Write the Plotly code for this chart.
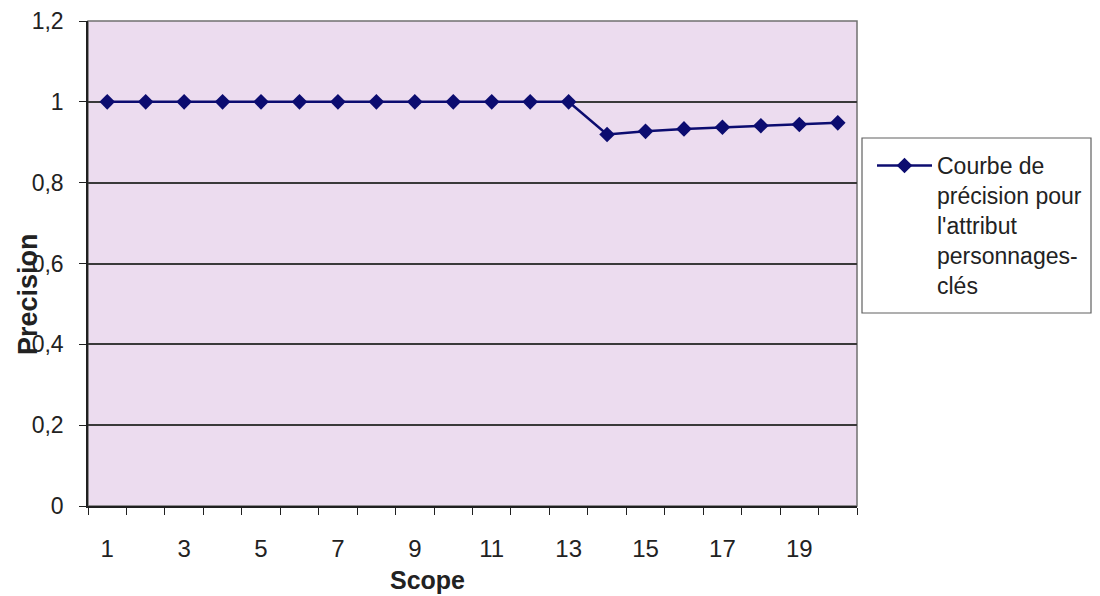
import plotly.graph_objects as go

scope = list(range(1, 21))
precision = [1, 1, 1, 1, 1, 1, 1, 1, 1, 1, 1, 1, 1,
             0.919, 0.927, 0.933, 0.937, 0.941, 0.944, 0.948]
series_name = "Courbe de<br>précision pour<br>l'attribut<br>personnages-<br>clés"
x_tick_vals = [1, 3, 5, 7, 9, 11, 13, 15, 17, 19]
y_tick_vals = [0, 0.2, 0.4, 0.6, 0.8, 1.0, 1.2]

FONT = "Liberation Sans, Arial, sans-serif"
TXT = "#222222"

# page offset: the html body has an 8px margin
PLOT_L, PLOT_R, PLOT_T, PLOT_B = 88, 857, 21, 506
W = PLOT_R - PLOT_L
H = PLOT_B - PLOT_T


def px(x):
    return (x - PLOT_L) / W


def py(y):
    return (PLOT_B - y) / H


fig = go.Figure()
fig.add_trace(go.Scatter(
    x=scope, y=precision, mode="lines+markers", name=series_name,
    line=dict(color="#0c0c70", width=2.5),
    marker=dict(symbol="diamond", size=12, color="#0c0c70"),
    showlegend=True,
))

# legend border box
fig.add_shape(type="rect", xref="paper", yref="paper",
              x0=px(862), x1=px(1091), y0=py(313), y1=py(138),
              line=dict(color="#606060", width=1.2), fillcolor="white", layer="below")
# plot border (top/right)
fig.add_shape(type="rect", xref="paper", yref="paper", x0=0, x1=1, y0=0, y1=1,
              line=dict(color="#707070", width=1.5), layer="below")

fig.update_layout(
    width=1092, height=588,
    margin=dict(l=PLOT_L - 8, r=1100 - PLOT_R, t=PLOT_T - 8, b=596 - PLOT_B, autoexpand=False),
    paper_bgcolor="white",
    plot_bgcolor="#ecdcef",
    separators=", ",
    font=dict(family=FONT, size=24, color=TXT),
    showlegend=True,
    legend=dict(x=px(872), y=py(144), xanchor="left", yanchor="top",
                bgcolor="rgba(0,0,0,0)", borderwidth=0, itemwidth=55, valign="top",
                font=dict(family=FONT, size=23, color=TXT), tracegroupgap=0),
    xaxis=dict(
        range=[0.5, 20.5], tickmode="array", tickvals=x_tick_vals, automargin=False,
        ticktext=[str(v) for v in x_tick_vals], ticks="", showgrid=False, zeroline=False,
        showline=True, linecolor="#202020", linewidth=1.5, ticklabelstandoff=20,
        ticklabeloverflow="allow",
        tickfont=dict(family=FONT, size=24, color=TXT),
        minor=dict(tickmode="array", tickvals=[v + 0.5 for v in range(0, 21)],
                   ticks="outside", ticklen=7, tickcolor="#202020", tickwidth=1.2, showgrid=False),
    ),
    yaxis=dict(
        range=[0, 1.2], tickmode="array", tickvals=y_tick_vals, automargin=False,
        ticks="outside", ticklen=7, tickcolor="#202020", tickwidth=1.2,
        ticklabeloverflow="allow",
        tickfont=dict(family=FONT, size=23, color=TXT),
        showgrid=True, gridcolor="#3a3a3a", gridwidth=1.5, zeroline=False,
        showline=True, linecolor="#202020", linewidth=1.5, ticklabelstandoff=11,
    ),
    annotations=[
        dict(text="<b>Precision</b>", xref="paper", yref="paper",
             x=px(28), y=py(294), textangle=-90,
             showarrow=False, font=dict(family=FONT, size=27, color=TXT),
             xanchor="center", yanchor="middle"),
        dict(text="<b>Scope</b>", xref="paper", yref="paper",
             x=px(427), y=py(580),
             showarrow=False, font=dict(family=FONT, size=25, color=TXT),
             xanchor="center", yanchor="middle"),
    ],
)

fig.write_html("out.html")
